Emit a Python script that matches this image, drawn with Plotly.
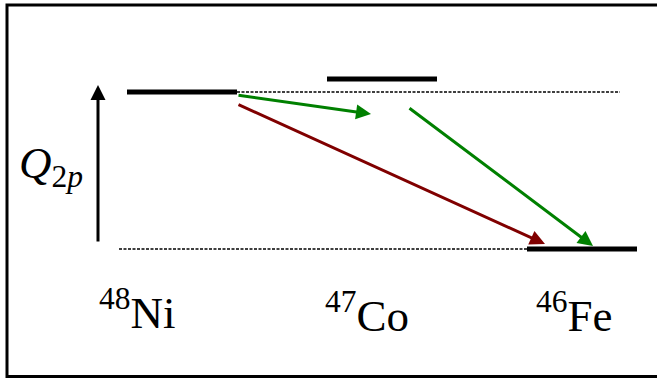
import plotly.graph_objects as go

# ---- data ----
nuclides = ["<sup>48</sup>Ni", "<sup>47</sup>Co", "<sup>46</sup>Fe"]
level_pos = [0, 1, 2]                 # horizontal slot of each nuclide
level_energy = [1.0, 1.083, 0.0]      # relative energy (Q2p units)
level_halfwidth = 0.275
label_x = [-0.225, 0.925, 1.96]
label_y = [-0.385, -0.405, -0.405]

# reference (dotted) lines: x-start, x-end, energy
ref_x0 = [0.275, -0.315]
ref_x1 = [2.19, 1.725]
ref_e = [1.0, 0.0]

# decay arrows: tail (x, E) -> head (x, E)
arrow_tail_x = [0.275, 1.13, 0.275]
arrow_tail_e = [0.981, 0.904, 0.924]
arrow_head_x = [0.945, 2.055, 1.815]
arrow_head_e = [0.86, 0.019, 0.032]
arrow_color = ["#008000", "#008000", "#800000"]

# Q2p axis arrow
q_x = -0.42
q_e = [0.038, 1.045]

SERIF = "Liberation Serif"

fig = go.Figure()

for xs, xe, e in zip(ref_x0, ref_x1, ref_e):
    fig.add_trace(go.Scatter(x=[xs, xe], y=[e, e], mode="lines",
                             line=dict(color="black", width=1.6, dash="3px,1.5px"),
                             hoverinfo="skip", showlegend=False))

for p, e in zip(level_pos, level_energy):
    fig.add_trace(go.Scatter(x=[p - level_halfwidth, p + level_halfwidth], y=[e, e],
                             mode="lines", line=dict(color="black", width=5),
                             hoverinfo="skip", showlegend=False))

for tx, te, hx, he, c in zip(arrow_tail_x, arrow_tail_e, arrow_head_x, arrow_head_e, arrow_color):
    fig.add_annotation(x=hx, y=he, ax=tx, ay=te, xref="x", yref="y", axref="x", ayref="y",
                       text="", showarrow=True, arrowhead=2, arrowsize=1, arrowwidth=3,
                       arrowcolor=c, standoff=0)

fig.add_annotation(x=q_x, y=q_e[1], ax=q_x, ay=q_e[0], xref="x", yref="y", axref="x", ayref="y",
                   text="", showarrow=True, arrowhead=2, arrowsize=1, arrowwidth=3,
                   arrowcolor="black", standoff=0)

fig.add_annotation(x=-0.655, y=0.53, xref="x", yref="y", showarrow=False,
                   text="<i>Q</i><sub>2<i>p</i></sub>",
                   font=dict(family=SERIF, size=45, color="black"))

for name, lx, ly in zip(nuclides, label_x, label_y):
    fig.add_annotation(x=lx, y=ly, xref="x", yref="y", showarrow=False, text=name,
                       font=dict(family=SERIF, size=45, color="black"))

# frame (left, top, bottom borders)
W, H = 657, 380
fig.add_shape(type="path", xref="paper", yref="paper",
              path=f"M 1,{1-5/H} L {7/W},{1-5/H} L {7/W},{1-376.5/H} L 1,{1-376.5/H}",
              line=dict(color="black", width=3))

fig.update_layout(
    width=W, height=H, margin=dict(l=0, r=0, t=0, b=0),
    paper_bgcolor="white", plot_bgcolor="white",
    font=dict(family=SERIF),
    xaxis=dict(range=[-0.91, 2.375], visible=False, fixedrange=True),
    yaxis=dict(range=[-0.8344, 1.586], visible=False, fixedrange=True),
    showlegend=False,
)

fig.write_html("out.html")
